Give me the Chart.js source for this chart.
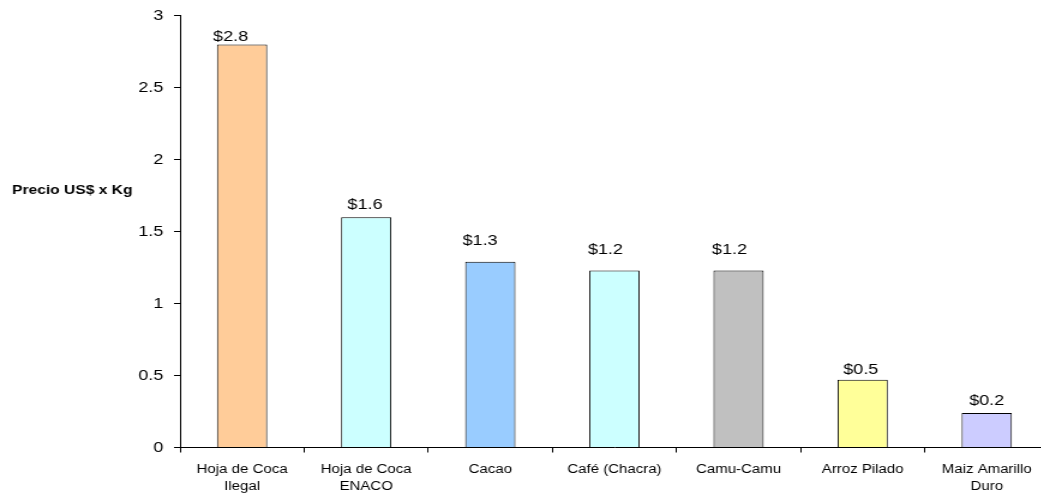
<!DOCTYPE html>
<html>
<head>
<meta charset="utf-8">
<script src="https://cdn.jsdelivr.net/npm/chart.js@4/dist/chart.umd.min.js"></script>
<style>
  html, body { margin: 0; padding: 0; background: #fff; overflow: hidden; width: 1041px; height: 500px; }
  #wrap { width: 874px; height: 500px; transform: scaleX(1.2); transform-origin: 0 0; }
  canvas { display: block; }
</style>
</head>
<body>
<div id="wrap"><canvas id="c" width="874" height="500" style="width:874px;height:500px"></canvas></div>
<script>
// ---- data ----
const categories = [
  ['Hoja de Coca', 'Ilegal'],
  ['Hoja de Coca', 'ENACO'],
  'Cacao',
  'Café (Chacra)',
  'Camu-Camu',
  'Arroz Pilado',
  ['Maiz Amarillo', 'Duro']
];
const prices = [2.8, 1.6, 1.29, 1.23, 1.23, 0.47, 0.24];
const yTickValues = [0, 0.5, 1, 1.5, 2, 2.5, 3];
const yAxisTitle = 'Precio US$ x Kg';

// ---- styles ----
const barColors = ['#FFCC99', '#CCFFFF', '#99CCFF', '#CCFFFF', '#C0C0C0', '#FFFF99', '#CCCCFF'];
const labelDx = [-9.5, -1, -8.5, -7.5, -7.5, -1.5, 0];
const labelDy = [8, 12, 21, 21, 21, 10, 12];
const FONT = '"Liberation Sans", Arial, Helvetica, sans-serif';

const valueLabels = {
  id: 'valueLabels',
  afterDatasetsDraw(chart) {
    const ctx = chart.ctx;
    const meta = chart.getDatasetMeta(0);
    ctx.save();
    ctx.font = '15px ' + FONT;
    ctx.fillStyle = '#000';
    ctx.textAlign = 'center';
    ctx.textBaseline = 'middle';
    meta.data.forEach((bar, i) => {
      const v = chart.data.datasets[0].data[i];
      ctx.fillText('$' + v.toFixed(1), bar.x + labelDx[i], bar.y - labelDy[i]);
    });
    ctx.restore();
  }
};

const yTitle = {
  id: 'yTitle',
  afterDraw(chart) {
    const ctx = chart.ctx;
    ctx.save();
    ctx.font = 'bold 13px ' + FONT;
    ctx.fillStyle = '#000';
    ctx.textAlign = 'left';
    ctx.textBaseline = 'middle';
    ctx.fillText(yAxisTitle, 10, 190);
    ctx.restore();
  }
};

new Chart(document.getElementById('c'), {
  type: 'bar',
  data: {
    labels: categories,
    datasets: [{
      data: prices,
      backgroundColor: barColors,
      borderColor: '#000',
      borderWidth: 1,
      borderSkipped: 'bottom',
      categoryPercentage: 1,
      barPercentage: 0.405
    }]
  },
  options: {
    responsive: false,
    animation: false,
    devicePixelRatio: 1,
    layout: { padding: { top: 8, right: 0, left: 0, bottom: 0 } },
    plugins: { legend: { display: false }, tooltip: { enabled: false } },
    scales: {
      x: {
        offset: true,
        grid: { offset: true, drawOnChartArea: false, drawTicks: true, tickLength: 5, color: '#000', lineWidth: 1 },
        border: { display: true, color: '#000', width: 1 },
        ticks: { color: '#000', font: { family: FONT, size: 12.5, lineHeight: 1.35 }, padding: 9, maxRotation: 0, autoSkip: false },
        afterFit(scale) { scale.height = 52.5; }
      },
      y: {
        min: 0,
        max: 3,
        afterBuildTicks(scale) { scale.ticks = yTickValues.map(v => ({ value: v })); },
        grid: { drawOnChartArea: false, drawTicks: true, tickLength: 5, color: '#000', lineWidth: 1 },
        border: { display: true, color: '#000', width: 1 },
        ticks: { color: '#000', font: { family: FONT, size: 15, lineHeight: 0.9 }, padding: 9, callback: v => String(v) },
        afterFit(scale) { scale.width = 150; }
      }
    }
  },
  plugins: [valueLabels, yTitle]
});
</script>
</body>
</html>
